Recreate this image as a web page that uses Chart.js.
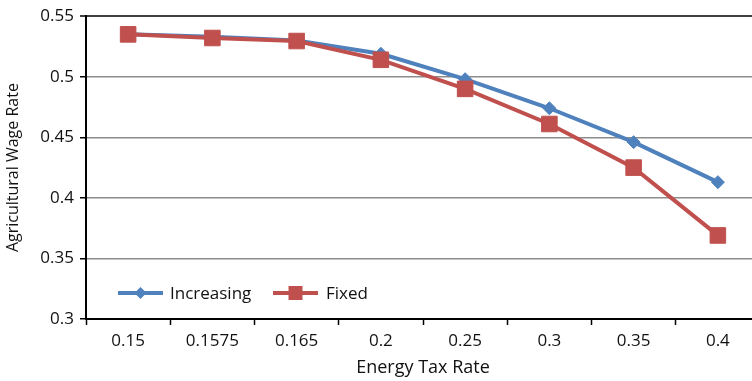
<!DOCTYPE html>
<html>
<head>
<meta charset="utf-8">
<script src="https://cdn.jsdelivr.net/npm/chart.js@4/dist/chart.umd.min.js"></script>
<style>
  html, body { margin: 0; padding: 0; background: #fff; overflow: hidden; }
  #wrap { position: absolute; left: 0; top: 0; width: 762px; height: 381px; }
  #c { width: 762px; height: 381px; display: block; }
</style>
</head>
<body>
<div id="wrap"><canvas id="c" width="762" height="381"></canvas></div>
<script>
// Energy tax rate scenarios and resulting agricultural wage rate
const taxRates = ['0.15', '0.1575', '0.165', '0.2', '0.25', '0.3', '0.35', '0.4'];
const increasing = [0.535, 0.533, 0.530, 0.519, 0.498, 0.474, 0.446, 0.413];
const fixed = [0.535, 0.532, 0.5295, 0.514, 0.490, 0.461, 0.425, 0.369];
const yTicks = [0.3, 0.35, 0.4, 0.45, 0.5, 0.55];

const BLUE = '#4f81bd';
const RED = '#c0504d';
const FONT = "'Open Sans', 'Liberation Sans', sans-serif";
const TEXT = '#111';

// Legend drawn inside the plot area, lower left
const insideLegend = {
  id: 'insideLegend',
  afterDraw(chart) {
    const ctx = chart.ctx;
    const y = 293;
    const items = [
      { x0: 118, x1: 163, tx: 170, color: BLUE, label: 'Increasing', shape: 'diamond' },
      { x0: 273, x1: 318, tx: 326, color: RED, label: 'Fixed', shape: 'square' }
    ];
    ctx.save();
    items.forEach(it => {
      ctx.strokeStyle = it.color;
      ctx.lineWidth = 4;
      ctx.beginPath();
      ctx.moveTo(it.x0, y);
      ctx.lineTo(it.x1, y);
      ctx.stroke();
      const cx = (it.x0 + it.x1) / 2;
      ctx.fillStyle = it.color;
      ctx.beginPath();
      if (it.shape === 'diamond') {
        const r = 6;
        ctx.moveTo(cx, y - r); ctx.lineTo(cx + r, y); ctx.lineTo(cx, y + r); ctx.lineTo(cx - r, y);
      } else {
        const s = 7;
        ctx.rect(cx - s, y - s, 2 * s, 2 * s);
      }
      ctx.closePath();
      ctx.fill();
      ctx.fillStyle = TEXT;
      ctx.font = '17px ' + FONT;
      ctx.textAlign = 'left';
      ctx.textBaseline = 'middle';
      ctx.fillText(it.label, it.tx, y + 1);
    });
    ctx.restore();
  }
};

new Chart(document.getElementById('c'), {
  type: 'line',
  data: {
    labels: taxRates,
    datasets: [
      {
        label: 'Increasing',
        data: increasing,
        borderColor: BLUE,
        backgroundColor: BLUE,
        borderWidth: 4,
        pointStyle: 'rectRot',
        pointRadius: 6.5,
        pointBorderWidth: 1,
        tension: 0,
        order: 2
      },
      {
        label: 'Fixed',
        data: fixed,
        borderColor: RED,
        backgroundColor: RED,
        borderWidth: 4,
        pointStyle: 'rect',
        pointRadius: 11,
        pointBorderWidth: 1,
        tension: 0,
        order: 1
      }
    ]
  },
  options: {
    responsive: false,
    animation: false,
    layout: { autoPadding: false, padding: { top: 14, right: 2, bottom: 0, left: 0 } },
    plugins: {
      legend: { display: false },
      tooltip: { enabled: false }
    },
    scales: {
      x: {
        offset: true,
        grid: {
          offset: true,
          drawOnChartArea: false,
          drawTicks: true,
          tickLength: 6,
          tickColor: '#000',
          tickWidth: 1.5
        },
        border: { display: true, color: '#000', width: 2 },
        ticks: {
          color: TEXT,
          font: { family: FONT, size: 17 },
          padding: 6,
          maxRotation: 0
        },
        title: {
          display: true,
          text: 'Energy Tax Rate',
          color: TEXT,
          font: { family: FONT, size: 18 },
          padding: { top: 0, bottom: 2 }
        },
        afterFit(scale) { scale.height = 62; }
      },
      y: {
        min: 0.3,
        max: 0.55,
        afterBuildTicks(scale) { scale.ticks = yTicks.map(v => ({ value: v })); },
        grid: {
          color: ctx => (ctx.tick && ctx.tick.value === 0.55 ? '#404040' : '#8c8c8c'),
          lineWidth: ctx => (ctx.tick && ctx.tick.value === 0.55 ? 2 : 1.5),
          tickLength: 6,
          tickColor: '#000',
          tickWidth: 1.5
        },
        border: { display: true, color: '#000', width: 2 },
        ticks: {
          color: TEXT,
          font: { family: FONT, size: 17 },
          padding: 6,
          callback: v => String(Math.round(v * 100) / 100)
        },
        title: {
          display: true,
          text: 'Agricultural Wage Rate',
          color: TEXT,
          font: { family: FONT, size: 16 },
          padding: { top: 4, bottom: 0 }
        },
        afterFit(scale) { scale.width = 86; }
      }
    }
  },
  plugins: [insideLegend]
});
</script>
</body>
</html>
